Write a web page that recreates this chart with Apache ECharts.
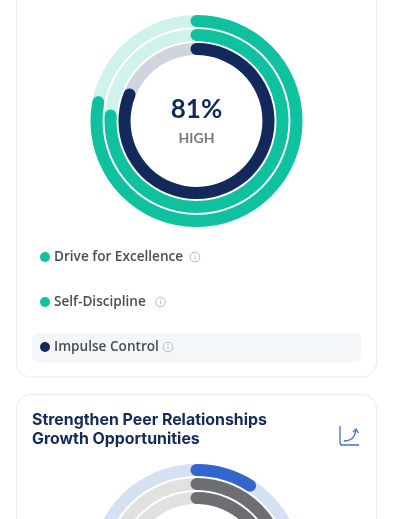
<!DOCTYPE html>
<html><head><meta charset="utf-8">
<style>html,body{margin:0;padding:0;background:#fff}#c{width:393px;height:519px}</style>
<script src="https://cdn.jsdelivr.net/npm/echarts@6/dist/echarts.min.js"></script>
</head><body><div id="c"></div>
<script>
const categories = ['Drive for Excellence', 'Self-Discipline', 'Impulse Control'];
const topValues = [78, 76, 81];
const topColors = ['#10c1a0', '#10c1a0', '#13295b'];
const topTracks = ['#cff3ec', '#cff3ec', '#d0d4de'];
const centerValue = '81%';
const centerLabel = 'HIGH';
const lowerTitle = ['Strengthen Peer Relationships', 'Growth Opportunities'];
const lowerValues = [9, 30, 25];
const lowerColors = ['#3366cc', '#6d6e71', '#6d6e71'];
const lowerTracks = ['#d5e0f3', '#e1e1e1', '#e1e1e1'];

const radii = [106, 92, 78];
const ringWidth = 12;

function ring(cy, R, value, color, track) {
  return {
    type: 'gauge', center: [196.5, cy], radius: R, startAngle: 90, endAngle: -270,
    min: 0, max: 100, z: 5, animation: false, silent: true,
    axisLine: { roundCap: false, lineStyle: { width: ringWidth, color: [[1, track]] } },
    progress: { show: true, roundCap: true, width: ringWidth, itemStyle: { color } },
    pointer: { show: false }, axisTick: { show: false }, splitLine: { show: false },
    axisLabel: { show: false }, title: { show: false }, detail: { show: false },
    data: [{ value }]
  };
}
const series = [];
radii.forEach((R, i) => series.push(ring(121, R, topValues[i], topColors[i], topTracks[i])));
radii.forEach((R, i) => series.push(ring(570, R, lowerValues[i], lowerColors[i], lowerTracks[i])));

const legendFont = '600 13.6px "Open Sans", sans-serif';
const legendY = [257, 302, 347];
const infoX = [195, 160.5, 168];
const g = [
  { type: 'rect', z: -2, shape: { x: 16.5, y: -40, width: 360, height: 417, r: 14 }, style: { fill: '#fff', stroke: '#e9ebef', lineWidth: 1 } },
  { type: 'rect', z: -2, shape: { x: 16.5, y: 394.5, width: 360, height: 200, r: 14 }, style: { fill: '#fff', stroke: '#e9ebef', lineWidth: 1 } },
  { type: 'rect', z: -1, shape: { x: 32, y: 333, width: 329, height: 29, r: 6 }, style: { fill: '#f4f7fa' } },
  { type: 'text', z: 6, style: { x: 196.5, y: 110, text: centerValue, fill: '#13295b', font: '700 26px Lato, sans-serif', textAlign: 'center', textVerticalAlign: 'middle' } },
  { type: 'text', z: 6, style: { x: 196.5, y: 138, text: centerLabel, fill: '#77787d', font: '700 14px Lato, sans-serif', textAlign: 'center', textVerticalAlign: 'middle' } }
];
categories.forEach((name, i) => {
  const y = legendY[i];
  g.push({ type: 'circle', z: 6, shape: { cx: 45, cy: y, r: 5 }, style: { fill: topColors[i] } });
  g.push({ type: 'text', z: 6, style: { x: 54, y: y + 0.5, text: name, fill: '#4b4d55', font: legendFont, textVerticalAlign: 'middle' } });
  g.push({ type: 'circle', z: 6, shape: { cx: infoX[i], cy: y, r: 4.8 }, style: { fill: 'none', stroke: '#b8babf', lineWidth: 1 } });
  g.push({ type: 'line', z: 6, shape: { x1: infoX[i], y1: y - 0.5, x2: infoX[i], y2: y + 2.5 }, style: { stroke: '#b8babf', lineWidth: 1 } });
  g.push({ type: 'line', z: 6, shape: { x1: infoX[i], y1: y - 2.6, x2: infoX[i], y2: y - 1.6 }, style: { stroke: '#b8babf', lineWidth: 1 } });
});
lowerTitle.forEach((t, i) => {
  g.push({ type: 'text', z: 6, style: { x: 32, y: 420 + i * 19, text: t, fill: '#152a55', font: '700 15.9px Inter, sans-serif', textVerticalAlign: 'middle' } });
});
g.push({ type: 'polyline', z: 6, shape: { points: [[340, 426], [340, 443], [341, 445], [359, 445]] }, style: { fill: 'none', stroke: '#3f6fd0', lineWidth: 1.3 } });
g.push({ type: 'bezierCurve', z: 6, shape: { x1: 344, y1: 441, cpx1: 351, cpy1: 441, cpx2: 355, cpy2: 437, x2: 356, y2: 430 }, style: { fill: 'none', stroke: '#3f6fd0', lineWidth: 1.3 } });
g.push({ type: 'polyline', z: 6, shape: { points: [[353, 432], [356, 429], [358.5, 433]] }, style: { fill: 'none', stroke: '#3f6fd0', lineWidth: 1.3 } });

const chart = echarts.init(document.getElementById('c'), null, { renderer: 'canvas' });
chart.setOption({ animation: false, backgroundColor: '#fff', series, graphic: { elements: g } });
</script></body></html>
